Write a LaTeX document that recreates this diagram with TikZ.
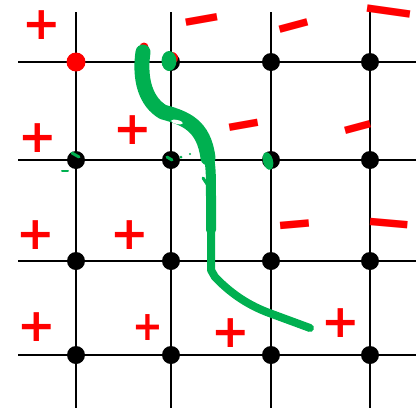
\documentclass[tikz,border=0pt]{standalone}
\usepackage{fontspec}
\newfontfamily\signfont{DejaVu Sans}
\usepackage{tikz}
\usetikzlibrary{positioning}
\definecolor{InkRed}{RGB}{255,0,0}
\definecolor{InkGreen}{RGB}{0,176,80}

\begin{document}
\begin{tikzpicture}[x=1pt, y=-1pt,
            gridline/.style={line width=2pt, black},
            dot/.style={circle, fill=black, inner sep=0pt, minimum size=18pt},
            sgn/.style={text=InkRed, inner sep=0pt,
                        font=\signfont\bfseries\fontsize{46}{46}\selectfont},
            stroke/.style={InkGreen, line width=8pt, line cap=round, line join=round}
          ]
          \useasboundingbox (0,0) rectangle (416,408);

          % Grid
          \foreach \x in {76,171,271,370}
            \draw[gridline] (\x,12) -- (\x,408);
          \foreach \y in {62,160,261,355}
            \draw[gridline] (18,\y) -- (416,\y);

          % Lattice points
          \foreach \x [count=\i] in {76,171,271,370}{
            \foreach \y [count=\j] in {62,160,261,355}{
              \node[dot] (p\i\j) at (\x,\y) {};
            }
          }
          \node[dot, fill=InkRed, minimum size=19pt] (q11) at (p11) {};
          \node[dot, fill=InkRed, minimum size=12pt] (q21) at (172,58) {};

          % Signs
          \foreach \s/\x/\y/\r/\w/\h [count=\k] in {
            +/42/25/0/1/1,   −/203/28/10/1.1/1.4,  −/296/34/15/1.0/1.4,  −/388/20/-8/1.5/1.4,
            +/38/138/0/1/1,  +/133/130/0/1/1,      −/245/133/10/1.0/1.4, −/360/135/15/0.9/1.4,
            +/36/235/0/1/1,  +/130/235/0/1/1,      −/296/233/5/1.0/1.4,  −/388/232/-5/1.3/1.4,
            +/37/327/0/1/1,  +/148/328/0/0.8/0.9,  +/231/333/0/1/1,      +/341/323/0/1/1
          }{
            \node[sgn, rotate=\r, xscale=\w, yscale=\h] (s\k) at (\x,\y) {\s};
          }

          % Path
          \node[circle, fill=InkRed, inner sep=0pt, minimum size=9pt] (tip) at (144,47) {};
          \draw[stroke, line width=15pt] (143,52) .. controls (139,80) and (146,102) .. (163,112)
                .. controls (185,118) and (204,125) .. (208,158);
          \draw[stroke, line width=10pt] (208,150) .. controls (211,170) .. (211,200) -- (211,230);
          \draw[stroke] (211,225) -- (211,270) -- (215,277)
                .. controls (235,298) and (255,308) .. (272,314) -- (310,328);
          \draw[stroke, line width=3pt] (203,178) -- (209,187);
          \fill[white, rotate around={-12:(177,122)}] (177,122) ellipse [x radius=6pt, y radius=2pt];

          % Marks on points
          \fill[InkGreen] (169,61) ellipse [x radius=7.5pt, y radius=10pt];
          \fill[InkGreen, rotate around={15:(268,161)}] (268,161) ellipse [x radius=5pt, y radius=9pt];
          \draw[InkGreen, line width=3pt, line cap=round] (72,153) -- (79,157);
          \draw[InkGreen, line width=2pt, line cap=round] (62,171) -- (68,171);
          \draw[InkGreen, line width=3pt, line cap=round] (167,157) -- (172,160);
          \fill[InkGreen] (181,157) circle (1.5pt) (190,154) circle (1.2pt);
        \end{tikzpicture}
\end{document}
